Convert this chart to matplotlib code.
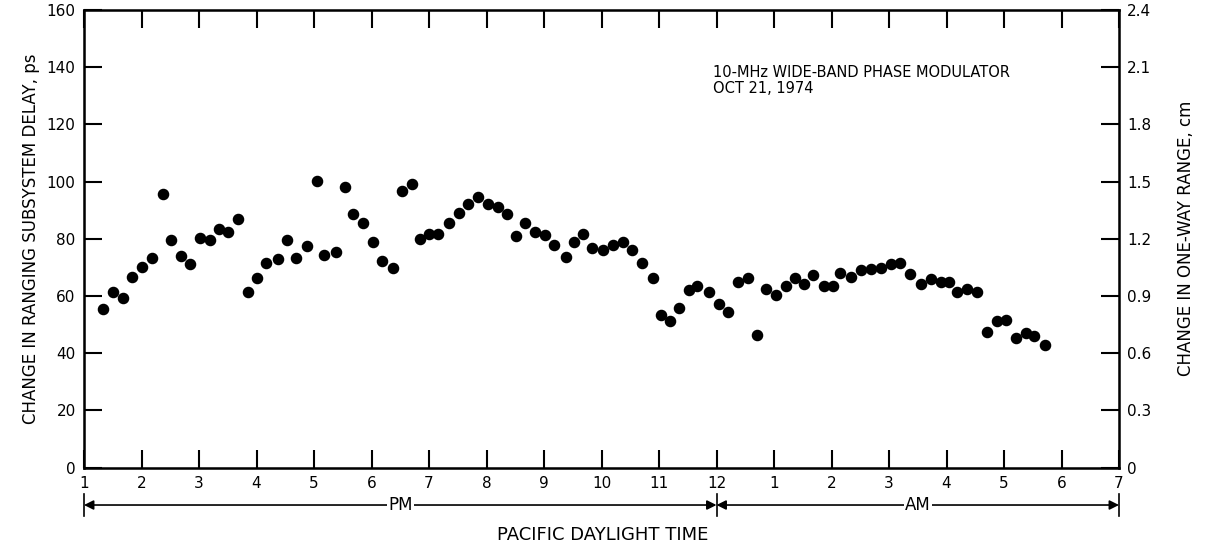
import matplotlib
matplotlib.use("Agg")
import matplotlib.pyplot as plt
from matplotlib.transforms import blended_transform_factory

# Time in hours after noon (1 PM = 1, midnight = 12, 7 AM = 19)
time_h = [1.33, 1.50, 1.68, 1.83, 2.01, 2.18, 2.37, 2.51, 2.69, 2.84,
          3.02, 3.19, 3.35, 3.50, 3.68, 3.85, 4.01, 4.17, 4.37, 4.53,
          4.69, 4.88, 5.05, 5.17, 5.38, 5.54, 5.68, 5.85, 6.03, 6.18,
          6.37, 6.53, 6.70, 6.84, 7.00, 7.16, 7.35, 7.52, 7.68, 7.85,
          8.03, 8.20, 8.36, 8.51, 8.67, 8.84, 9.02, 9.17, 9.38, 9.52,
          9.68, 9.83, 10.03, 10.20, 10.37, 10.53, 10.70, 10.90, 11.03, 11.19,
          11.35, 11.52, 11.66, 11.87, 12.04, 12.20, 12.37, 12.55, 12.70, 12.86,
          13.03, 13.21, 13.37, 13.52, 13.68, 13.87, 14.03, 14.15, 14.34, 14.51,
          14.69, 14.86, 15.03, 15.19, 15.37, 15.56, 15.73, 15.90, 16.04, 16.18,
          16.36, 16.53, 16.70, 16.88, 17.03, 17.21, 17.38, 17.52, 17.71]
delay_ps = [55.4, 61.4, 59.3, 66.6, 70.1, 73.3, 95.6, 79.5, 73.9, 71.2,
            80.2, 79.5, 83.4, 82.3, 86.9, 61.4, 66.3, 71.5, 72.9, 79.5,
            73.3, 77.4, 100.2, 74.3, 75.3, 98.1, 88.6, 85.5, 78.8, 72.2,
            69.8, 96.7, 99.1, 79.9, 81.6, 81.6, 85.5, 89.0, 92.1, 94.6,
            92.1, 91.1, 88.6, 80.9, 85.5, 82.3, 81.3, 77.8, 73.6, 78.8,
            81.6, 76.7, 76.0, 77.8, 78.8, 76.0, 71.5, 66.3, 53.3, 51.2,
            55.8, 62.1, 63.5, 61.4, 57.2, 54.4, 64.9, 66.3, 46.3, 62.4,
            60.3, 63.5, 66.3, 64.2, 67.3, 63.5, 63.5, 68.0, 66.6, 69.1,
            69.4, 69.8, 71.2, 71.5, 67.7, 64.2, 65.9, 64.9, 64.9, 61.4,
            62.4, 61.4, 47.4, 51.2, 51.6, 45.3, 47.0, 46.0, 42.8]

x_ticks = list(range(1, 20))
x_tick_labels = ["1", "2", "3", "4", "5", "6", "7", "8", "9", "10", "11", "12",
                 "1", "2", "3", "4", "5", "6", "7"]
y_ticks = [0, 20, 40, 60, 80, 100, 120, 140, 160]
y2_ticks = [0, 0.3, 0.6, 0.9, 1.2, 1.5, 1.8, 2.1, 2.4]
y2_tick_labels = ["0", "0.3", "0.6", "0.9", "1.2", "1.5", "1.8", "2.1", "2.4"]

plt.rcParams['font.family'] = ['DejaVu Sans']

fig = plt.figure(figsize=(12.07, 5.5), dpi=100)
ax = fig.add_axes([84/1207, 82.5/550, (1119-84)/1207, 457.5/550])

ax.plot(time_h, delay_ps, 'o', color='black', markersize=7.3, linestyle='none')

ax.set_xlim(1, 19)
ax.set_ylim(0, 160)
ax.set_xticks(x_ticks)
ax.set_xticklabels(x_tick_labels, fontsize=11)
ax.set_yticks(y_ticks)
ax.set_yticklabels([str(v) for v in y_ticks], fontsize=11)
ax.tick_params(axis='x', direction='in', length=13, width=1.5, top=True, pad=6)
ax.tick_params(axis='y', direction='in', length=13, width=1.5, pad=6)
for s in ax.spines.values():
    s.set_linewidth(1.8)
ax.set_ylabel("CHANGE IN RANGING SUBSYSTEM DELAY, ps", fontsize=12, labelpad=5)

ax2 = ax.twinx()
ax2.set_ylim(0, 2.4)
ax2.set_yticks(y2_ticks)
ax2.set_yticklabels(y2_tick_labels, fontsize=11)
ax2.tick_params(axis='y', direction='in', length=13, width=1.5, pad=6)
ax2.set_ylabel("CHANGE IN ONE-WAY RANGE, cm", fontsize=12, labelpad=18)

ax.text(0.608, 0.880,
        "10-MHz WIDE-BAND PHASE MODULATOR\nOCT 21, 1974",
        transform=ax.transAxes, fontsize=10.5, va='top', ha='left',
        linespacing=1.1)

# PM / AM span arrows below the axis
tr = blended_transform_factory(ax.transData, ax.transAxes)
yarr = -0.082
for (x0, x1, lab) in [(1, 12, "PM"), (12, 19, "AM")]:
    ax.annotate("", xy=(x0, yarr), xytext=(x1, yarr), xycoords=tr, textcoords=tr,
                arrowprops=dict(arrowstyle='<|-|>', color='black', lw=1.2,
                                shrinkA=0, shrinkB=0, mutation_scale=14),
                annotation_clip=False)
    ax.text((x0 + x1) / 2, yarr, lab, transform=tr, ha='center', va='center',
            fontsize=12, bbox=dict(facecolor='white', edgecolor='none', pad=1.0),
            clip_on=False)
for xb in (1, 12, 19):
    ax.plot([xb, xb], [yarr - 0.025, yarr + 0.025], transform=tr, color='black',
            lw=1.2, clip_on=False)

fig.text(603/1207, 1 - 535/550, "PACIFIC DAYLIGHT TIME", ha='center', va='center',
         fontsize=13)

fig.savefig("out.png", dpi=100)
